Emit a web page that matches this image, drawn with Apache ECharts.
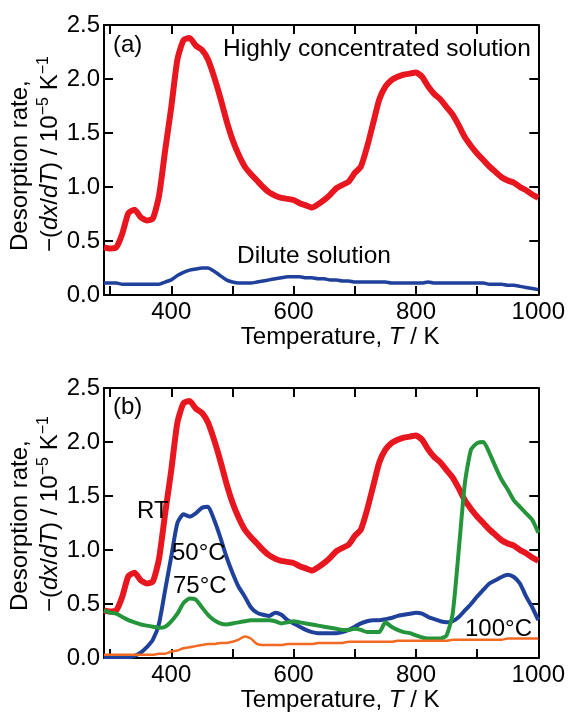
<!DOCTYPE html>
<html>
<head>
<meta charset="utf-8">
<script src="https://cdn.jsdelivr.net/npm/echarts@6/dist/echarts.min.js"></script>
<style>html,body{margin:0;padding:0;background:#fff;}#c{width:568px;height:714px;}</style>
</head>
<body>
<div id="c"></div>
<script>
// Temperature grid (K)
var temps = [290,300,310,320,330,340,350,360,370,380,390,400,410,420,430,440,450,460,470,480,490,500,510,520,530,540,550,560,570,580,590,600,610,620,630,640,650,660,670,680,690,700,710,720,730,740,750,760,770,780,790,800,810,820,830,840,850,860,870,880,890,900,910,920,930,940,950,960,970,980,990,1000];
// Highly concentrated solution / RT
var concentrated = [0.44,0.43,0.44,0.57,0.76,0.79,0.72,0.69,0.71,0.92,1.34,1.74,2.18,2.36,2.38,2.31,2.27,2.18,2.02,1.83,1.62,1.44,1.30,1.19,1.12,1.06,1.00,0.95,0.92,0.90,0.89,0.88,0.85,0.83,0.81,0.84,0.88,0.93,0.99,1.02,1.05,1.13,1.19,1.37,1.59,1.81,1.93,1.99,2.02,2.04,2.05,2.06,2.02,1.93,1.86,1.81,1.74,1.67,1.57,1.46,1.38,1.31,1.25,1.19,1.14,1.09,1.06,1.04,1.00,0.97,0.93,0.90];
// Dilute solution
var dilute = [0.11,0.11,0.11,0.10,0.10,0.10,0.10,0.10,0.10,0.10,0.12,0.14,0.18,0.21,0.23,0.24,0.25,0.25,0.22,0.18,0.14,0.12,0.11,0.11,0.11,0.12,0.13,0.14,0.15,0.16,0.17,0.17,0.17,0.16,0.16,0.15,0.15,0.14,0.14,0.13,0.13,0.12,0.12,0.12,0.12,0.12,0.12,0.11,0.11,0.11,0.11,0.11,0.11,0.12,0.11,0.11,0.11,0.11,0.11,0.11,0.11,0.11,0.11,0.10,0.10,0.10,0.09,0.09,0.08,0.07,0.06,0.05];
// 50 °C
var c50 = [0.01,0.01,0.01,0.01,0.01,0.02,0.05,0.10,0.17,0.32,0.63,0.94,1.25,1.33,1.31,1.34,1.39,1.40,1.28,1.12,0.94,0.79,0.66,0.57,0.47,0.42,0.40,0.39,0.42,0.40,0.35,0.32,0.29,0.26,0.24,0.23,0.23,0.23,0.23,0.24,0.26,0.29,0.32,0.34,0.35,0.35,0.36,0.37,0.39,0.40,0.41,0.42,0.41,0.38,0.36,0.34,0.33,0.34,0.38,0.44,0.50,0.57,0.63,0.69,0.72,0.75,0.77,0.75,0.69,0.57,0.47,0.35];
// 75 °C
var c75 = [0.44,0.42,0.41,0.38,0.35,0.33,0.31,0.30,0.29,0.28,0.29,0.34,0.41,0.51,0.55,0.54,0.47,0.40,0.35,0.32,0.31,0.32,0.33,0.34,0.35,0.35,0.35,0.35,0.34,0.32,0.33,0.34,0.33,0.32,0.31,0.30,0.29,0.28,0.27,0.26,0.26,0.27,0.26,0.24,0.24,0.24,0.33,0.29,0.26,0.24,0.23,0.21,0.19,0.18,0.18,0.18,0.21,0.41,1.00,1.62,1.93,1.99,2.00,1.90,1.77,1.65,1.56,1.46,1.40,1.34,1.28,1.16];
// 100 °C
var c100 = [0.03,0.03,0.03,0.03,0.03,0.03,0.03,0.03,0.03,0.04,0.04,0.06,0.07,0.09,0.10,0.11,0.12,0.13,0.13,0.14,0.14,0.15,0.17,0.20,0.18,0.13,0.12,0.12,0.12,0.12,0.13,0.13,0.13,0.13,0.13,0.14,0.14,0.14,0.14,0.14,0.15,0.15,0.15,0.15,0.15,0.15,0.15,0.15,0.16,0.16,0.16,0.16,0.16,0.16,0.16,0.16,0.16,0.17,0.17,0.17,0.17,0.17,0.17,0.17,0.17,0.17,0.18,0.18,0.18,0.18,0.18,0.18];
// Axis ticks
var xLabelTicks = [400,600,800,1000];
var xMinorTicks = [300,400,500,600,700,800,900,1000];
var yTicks = [0,0.5,1.0,1.5,2.0,2.5];

function pairs(v){ return temps.map(function(t,i){ return [t, v[i]]; }); }

var FONT = 'Liberation Sans, Arial, Helvetica, sans-serif';
var FS = 24;
var RED = '#e8171f', BLUE = '#1f409b', GREEN = '#25953c', ORANGE = '#f26a22';

function xAx(gi, pos, showLabel){
  var a = {
    type:'value', gridIndex:gi, position:pos, min:290, max:1000,
    axisLine:{show:true, onZero:false, lineStyle:{color:'#000', width:2}},
    axisTick:{show:true, inside:true, length:9, lineStyle:{color:'#000', width:2}, customValues:xMinorTicks},
    axisLabel:{show:showLabel, customValues:xLabelTicks, margin:5, color:'#000', fontSize:FS, fontFamily:FONT, formatter:function(v){return String(v);}},
    splitLine:{show:false}
  };
  if (showLabel) {
    a.name = '{n|Temperature, }{i|T}{n| / K}';
    a.nameLocation = 'middle';
    a.nameGap = 24;
    a.nameTextStyle = {padding:[0,0,0,38], rich:{n:{fontSize:FS, fontFamily:FONT, color:'#000'}, i:{fontSize:FS, fontFamily:FONT, fontStyle:'italic', color:'#000'}}};
  }
  return a;
}
function yAx(gi, pos, showLabel){
  return {
    type:'value', gridIndex:gi, position:pos, min:0, max:2.5, interval:0.5,
    axisLine:{show:true, onZero:false, lineStyle:{color:'#000', width:2}},
    axisTick:{show:true, inside:true, length:9, lineStyle:{color:'#000', width:2}, customValues:yTicks},
    axisLabel:{show:showLabel, customValues:yTicks, margin:4, color:'#000', fontSize:FS, fontFamily:FONT, formatter:function(v){return v.toFixed(1);}},
    splitLine:{show:false}
  };
}
function line(name, xi, yi, data, color, w){
  return {name:name, type:'line', xAxisIndex:xi, yAxisIndex:yi, data:pairs(data), showSymbol:false, smooth:0.2,
    lineStyle:{color:color, width:w}, itemStyle:{color:color}, animation:false};
}
function txt(x, y, parts, size){
  return {type:'text', x:x, y:y, z:100, style:{text:parts, fontSize:size||FS, fontFamily:FONT, fill:'#000', textAlign:'left', textVerticalAlign:'middle'}};
}
function ytitle(yStart){
  var rich = {
    n:{fontSize:FS, fontFamily:FONT, color:'#000', lineHeight:29},
    i:{fontSize:FS, fontFamily:FONT, fontStyle:'italic', color:'#000', lineHeight:29},
    s:{fontSize:16, fontFamily:FONT, color:'#000', verticalAlign:'top', lineHeight:29}
  };
  return [
    {type:'text', x:20, y:yStart, rotation:Math.PI/2, style:{text:'Desorption rate,', fontSize:FS, fontFamily:FONT, fill:'#000', textAlign:'left', textVerticalAlign:'middle'}},
    {type:'text', x:50, y:yStart+1, rotation:Math.PI/2, style:{text:'{n|\u2212(}{i|dx}{n|/}{i|dT}{n|) / 10}{s|\u22125}{n| K}{s|\u22121}', rich:rich, textAlign:'left', textVerticalAlign:'middle'}}
  ];
}

var chart = echarts.init(document.getElementById('c'), null, {renderer:'canvas'});
chart.setOption({
  backgroundColor:'#fff',
  animation:false,
  grid:[
    {left:104, top:25, width:435, height:270},
    {left:104, top:388, width:435, height:270}
  ],
  xAxis:[xAx(0,'bottom',true), xAx(0,'top',false), xAx(1,'bottom',true), xAx(1,'top',false)],
  yAxis:[yAx(0,'left',true), yAx(0,'right',false), yAx(1,'left',true), yAx(1,'right',false)],
  series:[
    line('Highly concentrated solution',0,0,concentrated,RED,6),
    line('Dilute solution',0,0,dilute,BLUE,3.5),
    line('RT',2,2,concentrated,RED,6),
    line('50°C',2,2,c50,BLUE,4),
    line('75°C',2,2,c75,GREEN,4),
    line('100°C',2,2,c100,ORANGE,2.5)
  ],
  graphic:[
    txt(113,45,'(a)'),
    txt(223,49,'Highly concentrated solution',24.5),
    txt(237,256,'Dilute solution',24.5),
    txt(113,407,'(b)'),
    txt(137,511,'RT'),
    txt(172,553,'50°C'),
    txt(173,586,'75°C'),
    txt(465,629,'100°C')
  ].concat(ytitle(251)).concat(ytitle(611))
});
</script>
</body>
</html>
